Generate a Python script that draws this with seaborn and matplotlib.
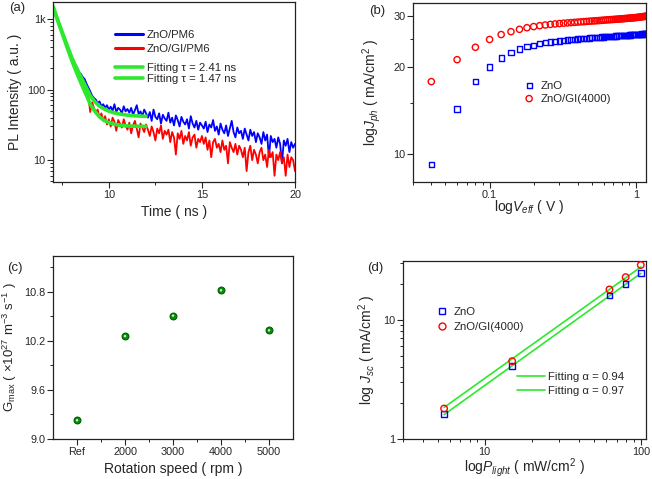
import numpy as np
import pandas as pd
import matplotlib
matplotlib.use('Agg')
import matplotlib.pyplot as plt
import seaborn as sns
from matplotlib.ticker import FixedLocator, NullFormatter, LogLocator, FormatStrFormatter
from matplotlib.lines import Line2D

sns.set_style('ticks')
plt.rcParams['font.family'] = ['Liberation Sans', 'DejaVu Sans']
plt.rcParams['mathtext.fontset'] = 'custom'
plt.rcParams['mathtext.rm'] = 'Liberation Sans'
plt.rcParams['mathtext.it'] = 'Liberation Sans:italic'
plt.rcParams['mathtext.bf'] = 'Liberation Sans:bold'
plt.rcParams['axes.linewidth'] = 0.9

# ---------------- data ----------------
# (a) PL decay, sampled every 0.1 ns from 7 ns
t_start, t_step = 7.0, 0.1
pl_zno = [1500, 1250, 1040, 870, 735, 625, 530, 455, 385, 330, 288,
          258, 226, 204, 178, 166, 150, 141, 121, 107, 94,
          82, 76, 72, 64, 68, 58, 62, 55, 60, 52,
          57, 50, 62, 48, 55, 52, 46, 58, 49, 53,
          47, 55, 44, 51, 60, 45, 49, 42, 52, 46,
          40, 48, 36, 52, 41, 38, 46, 33, 44, 39,
          36, 47, 34, 40, 31, 43, 37, 30, 41, 35,
          32, 38, 28, 42, 33, 29, 36, 27, 34, 31,
          28, 35, 25, 32, 29, 37, 26, 30, 23, 33,
          27, 24, 31, 22, 28, 36, 25, 21, 29, 24,
          26, 20, 28, 23, 19, 27, 22, 25, 18, 24,
          21, 17, 25, 19, 23, 11, 22, 18, 20, 15,
          21, 17, 9, 19, 16, 20, 13, 18, 15, 17]
pl_gi = [1500, 1240, 1020, 850, 715, 600, 505, 430, 362, 305, 258,
         228, 198, 170, 158, 131, 119, 107, 91, 79, 48,
         66, 55, 48, 52, 40, 46, 36, 42, 32, 38,
         30, 40, 35, 26, 37, 33, 29, 38, 31, 27,
         34, 24, 31, 36, 28, 21, 33, 29, 25, 32,
         27, 22, 30, 25, 19, 28, 24, 31, 20, 26,
         23, 27, 18, 25, 21, 12, 24, 20, 26, 17,
         22, 19, 25, 16, 21, 23, 15, 20, 18, 22,
         17, 21, 14, 19, 11, 18, 20, 15, 17, 13,
         19, 14, 16, 9, 18, 15, 13, 17, 12, 16,
         14, 11, 15, 7, 13, 16, 10, 14, 12, 9,
         13, 15, 10, 12, 8, 14, 11, 13, 6, 12,
         10, 13, 9, 11, 6, 12, 8, 11, 10, 7]
fit_time = [7.0, 7.25, 7.5, 7.75, 8.0, 8.25, 8.5, 8.75, 9.0, 9.25, 9.5,
            9.75, 10.0, 10.25, 10.5, 10.75, 11.0, 11.25, 11.5, 11.75, 12.0]
fit_zno = [1500, 970, 645, 430, 288, 205, 152, 112, 82, 67, 58,
           53, 49.5, 47, 45.5, 44.3, 43.4, 42.8, 42.3, 42.0, 41.8]
fit_gi = [1500, 955, 620, 400, 262, 178, 124, 88, 62, 49, 41,
          36.5, 34, 32.5, 31.5, 30.9, 30.5, 30.3, 30.2, 30.1, 30.05]

# (b) Jph vs Veff
veff = [0.04, 0.06, 0.08, 0.10, 0.12, 0.14, 0.16, 0.18, 0.20, 0.22,
        0.24, 0.26, 0.28, 0.30, 0.32, 0.34, 0.36, 0.38, 0.40, 0.42,
        0.44, 0.46, 0.48, 0.50, 0.52, 0.54, 0.56, 0.58, 0.60, 0.62,
        0.64, 0.66, 0.68, 0.70, 0.72, 0.74, 0.76, 0.78, 0.80, 0.82,
        0.84, 0.86, 0.88, 0.90, 0.92, 0.94, 0.96, 0.98, 1.00, 1.02,
        1.04, 1.06, 1.08, 1.10, 1.12, 1.14, 1.16, 1.18, 1.20]
jph_zno = [9.2, 14.3, 17.8, 20.0, 21.5, 22.4, 23.1, 23.5, 23.8, 24.05,
           24.25, 24.4, 24.5, 24.6, 24.7, 24.78, 24.85, 24.92, 24.98, 25.03,
           25.08, 25.13, 25.18, 25.22, 25.26, 25.3, 25.34, 25.38, 25.41, 25.44,
           25.47, 25.5, 25.53, 25.56, 25.59, 25.62, 25.64, 25.67, 25.69, 25.72,
           25.74, 25.76, 25.78, 25.8, 25.82, 25.84, 25.86, 25.88, 25.9, 25.92,
           25.94, 25.96, 25.98, 26.0, 26.02, 26.04, 26.06, 26.08, 26.1]
jph_gi = [17.8, 21.2, 23.4, 24.9, 25.9, 26.5, 27.0, 27.35, 27.6, 27.8,
          27.95, 28.08, 28.18, 28.27, 28.35, 28.42, 28.48, 28.54, 28.6, 28.65,
          28.7, 28.75, 28.8, 28.84, 28.88, 28.92, 28.96, 29.0, 29.04, 29.08,
          29.12, 29.15, 29.18, 29.21, 29.24, 29.27, 29.3, 29.33, 29.36, 29.39,
          29.42, 29.45, 29.48, 29.51, 29.54, 29.57, 29.6, 29.63, 29.66, 29.69,
          29.72, 29.75, 29.8, 29.85, 29.88, 29.92, 29.95, 29.98, 30.0]

# (c) Gmax vs rotation speed
speeds = ['Ref', '2000', '3000', '4000', '5000']
gmax = [9.23, 10.26, 10.51, 10.82, 10.33]

# (d) Jsc vs Plight
plight = [5.5, 15, 63, 80, 100]
jsc_zno = [1.62, 4.07, 16.0, 19.9, 24.6]
jsc_gi = [1.80, 4.49, 17.9, 22.7, 28.7]
fit_p = [5.5, 100]
fit_jsc_zno = [1.6, 24.4]
fit_jsc_gi = [1.84, 27.6]

BLUE = '#0000ff'
RED = '#ff0000'
GREEN = '#2ee82e'

W, H = 652, 479
fig = plt.figure(figsize=(W / 100, H / 100), dpi=100)


def add_ax(l, r, t, b):
    return fig.add_axes([l / W, 1 - b / H, (r - l) / W, (b - t) / H])


def style(ax):
    ax.tick_params(which='major', direction='out', length=4, width=0.8,
                   labelsize=7.8, pad=1.5, top=False, right=False)
    ax.tick_params(which='minor', direction='out', length=2, width=0.7,
                   top=False, right=False)
    for s in ax.spines.values():
        s.set_visible(True)
        s.set_color('#222222')


lab_fs = 10
leg_fs = 8.2

# ---------------- (a) ----------------
axa = add_ax(53, 295, 2, 182)
times = t_start + t_step * np.arange(len(pl_zno))
sns.lineplot(x=times, y=pl_zno, ax=axa, color=BLUE, lw=1.3, estimator=None,
             sort=False, label='ZnO/PM6')
sns.lineplot(x=times, y=pl_gi, ax=axa, color=RED, lw=1.3, estimator=None,
             sort=False, label='ZnO/GI/PM6')
sns.lineplot(x=fit_time, y=fit_zno, ax=axa, color=GREEN, lw=2.6,
             estimator=None, sort=False, label='Fitting τ = 2.41 ns')
sns.lineplot(x=fit_time, y=fit_gi, ax=axa, color=GREEN, lw=2.6,
             estimator=None, sort=False, label='Fitting τ = 1.47 ns')
axa.set_yscale('log')
axa.set_xlim(7, 20)
axa.set_ylim(4.9, 1740)
axa.xaxis.set_major_locator(FixedLocator([10, 15, 20]))
axa.xaxis.set_minor_locator(FixedLocator([7.5, 12.5, 17.5]))
axa.set_yticks([10, 100, 1000], ['10', '100', '1k'])
axa.yaxis.set_minor_locator(LogLocator(base=10, subs=np.arange(2, 10)))
axa.yaxis.set_minor_formatter(NullFormatter())
style(axa)
axa.set_xlabel('Time ( ns )', fontsize=lab_fs)
axa.set_ylabel('PL Intensity ( a.u. )', fontsize=lab_fs)
axa.xaxis.set_label_coords(0.5, -0.13)
axa.yaxis.set_label_coords(-0.128, 0.5)
h, l = axa.get_legend_handles_labels()
if axa.legend_:
    axa.legend_.remove()
hd = [Line2D([], [], color=BLUE, lw=2.2), Line2D([], [], color=RED, lw=2.2)]
hf = [Line2D([], [], color=GREEN, lw=2.6), Line2D([], [], color=GREEN, lw=2.6)]
leg1 = axa.legend(hd, l[:2], loc='upper left', bbox_to_anchor=(0.256, 0.842),
                  frameon=False, fontsize=leg_fs, borderpad=0, borderaxespad=0,
                  handlelength=2.5, handletextpad=0.3, labelspacing=0.32)
axa.add_artist(leg1)
axa.legend(hf, l[2:], loc='upper left', bbox_to_anchor=(0.256, 0.66),
           frameon=False, fontsize=leg_fs, borderpad=0, borderaxespad=0,
           handlelength=2.5, handletextpad=0.3, labelspacing=0.1)
fig.text(17 / W, 1 - 8 / H, '(a)', fontsize=9.5, ha='center', va='center')

# ---------------- (b) ----------------
axb = add_ax(413, 646, 3, 182)
sns.scatterplot(x=veff, y=jph_zno, ax=axb, marker='s', s=14, fc='none',
                ec=BLUE, linewidth=1.0, label='ZnO')
sns.scatterplot(x=veff, y=jph_gi, ax=axb, marker='o', s=20, fc='none',
                ec=RED, linewidth=1.0, label='ZnO/GI(4000)')
axb.set_xscale('log')
axb.set_yscale('log')
axb.set_xlim(0.03, 1.17)
axb.set_ylim(8.0, 33.3)
axb.set_xticks([0.1, 1], ['0.1', '1'])
axb.xaxis.set_minor_locator(LogLocator(base=10, subs=np.arange(2, 10)))
axb.xaxis.set_minor_formatter(NullFormatter())
axb.set_yticks([10, 20, 30], ['10', '20', '30'])
axb.yaxis.set_minor_locator(FixedLocator([15, 25]))
axb.yaxis.set_minor_formatter(NullFormatter())
style(axb)
axb.set_xlabel(r'log$V_{eff}$ ( V )', fontsize=lab_fs)
axb.set_ylabel(r'log$J_{ph}$ ( mA/cm$^2$ )', fontsize=lab_fs)
axb.xaxis.set_label_coords(0.5, -0.09)
axb.yaxis.set_label_coords(-0.13, 0.5)
axb.legend(loc='upper left', bbox_to_anchor=(0.474, 0.567), frameon=False,
           fontsize=leg_fs, borderpad=0, borderaxespad=0, handlelength=1.0,
           handletextpad=0.5, labelspacing=0.27)
fig.text(377 / W, 1 - 11 / H, '(b)', fontsize=9.5, ha='center', va='center')

# ---------------- (c) ----------------
axc = add_ax(53, 293, 256, 439)
sns.scatterplot(x=speeds, y=gmax, ax=axc, marker='o', s=24, color='#0a8f0a',
                ec='#005a00', linewidth=0.8)
sns.scatterplot(x=speeds, y=gmax, ax=axc, marker='o', s=3, color='#c8f5c8',
                ec='none', linewidth=0)
axc.set_xlim(-0.5, 4.5)
axc.set_ylim(9.0, 11.24)
axc.xaxis.set_minor_locator(FixedLocator([0.5, 1.5, 2.5, 3.5]))
axc.yaxis.set_major_locator(FixedLocator([9.0, 9.6, 10.2, 10.8]))
axc.yaxis.set_major_formatter(FormatStrFormatter('%.1f'))
axc.yaxis.set_minor_locator(FixedLocator([9.3, 9.9, 10.5, 11.1]))
style(axc)
axc.set_xlabel('Rotation speed ( rpm )', fontsize=lab_fs)
axc.set_ylabel(r'G$_{\rm max}$ ( ×10$^{27}$ m$^{-3}$ s$^{-1}$ )', fontsize=9.5)
axc.xaxis.set_label_coords(0.5, -0.125)
axc.yaxis.set_label_coords(-0.14, 0.5)
fig.text(15 / W, 1 - 268 / H, '(c)', fontsize=9.5, ha='center', va='center')

# ---------------- (d) ----------------
axd = add_ax(403, 646, 261, 439)
sns.lineplot(x=fit_p, y=fit_jsc_gi, ax=axd, color=GREEN, lw=1.2,
             estimator=None, sort=False, label='Fitting α = 0.94')
sns.lineplot(x=fit_p, y=fit_jsc_zno, ax=axd, color=GREEN, lw=1.2,
             estimator=None, sort=False, label='Fitting α = 0.97')
sns.scatterplot(x=plight, y=jsc_zno, ax=axd, marker='s', s=16, fc='none',
                ec=BLUE, linewidth=1.0, label='ZnO', zorder=3)
sns.scatterplot(x=plight, y=jsc_gi, ax=axd, marker='o', s=22, fc='none',
                ec=RED, linewidth=1.0, label='ZnO/GI(4000)', zorder=3)
axd.set_xscale('log')
axd.set_yscale('log')
axd.set_xlim(3.0, 108)
axd.set_ylim(1.0, 31)
axd.set_xticks([10, 100], ['10', '100'])
axd.xaxis.set_minor_locator(LogLocator(base=10, subs=np.arange(2, 10)))
axd.xaxis.set_minor_formatter(NullFormatter())
axd.set_yticks([1, 10], ['1', '10'])
axd.yaxis.set_minor_locator(LogLocator(base=10, subs=np.arange(2, 10)))
axd.yaxis.set_minor_formatter(NullFormatter())
style(axd)
axd.set_xlabel(r'log$P_{light}$ ( mW/cm$^2$ )', fontsize=lab_fs)
axd.set_ylabel(r'log $J_{sc}$ ( mA/cm$^2$ )', fontsize=lab_fs)
axd.xaxis.set_label_coords(0.5, -0.095)
axd.yaxis.set_label_coords(-0.103, 0.5)
h, l = axd.get_legend_handles_labels()
if axd.legend_:
    axd.legend_.remove()
mk = [Line2D([], [], ls='none', marker='s', ms=4.2, mfc='none', mec=BLUE, mew=1.0),
      Line2D([], [], ls='none', marker='o', ms=5, mfc='none', mec=RED, mew=1.0)]
ln = [Line2D([], [], color=GREEN, lw=1.2), Line2D([], [], color=GREEN, lw=1.2)]
legd1 = axd.legend(mk, ['ZnO', 'ZnO/GI(4000)'], loc='upper left',
                   bbox_to_anchor=(0.138, 0.744), frameon=False, fontsize=leg_fs,
                   borderpad=0, borderaxespad=0, handlelength=1.0,
                   handletextpad=0.5, labelspacing=0.45)
axd.add_artist(legd1)
axd.legend(ln, ['Fitting α = 0.94', 'Fitting α = 0.97'], loc='upper left',
           bbox_to_anchor=(0.469, 0.374), frameon=False, fontsize=leg_fs,
           borderpad=0, borderaxespad=0, handlelength=2.45, handletextpad=0.3,
           labelspacing=0.35)
fig.text(375 / W, 1 - 268 / H, '(d)', fontsize=9.5, ha='center', va='center')

fig.savefig('out.png', dpi=100)
